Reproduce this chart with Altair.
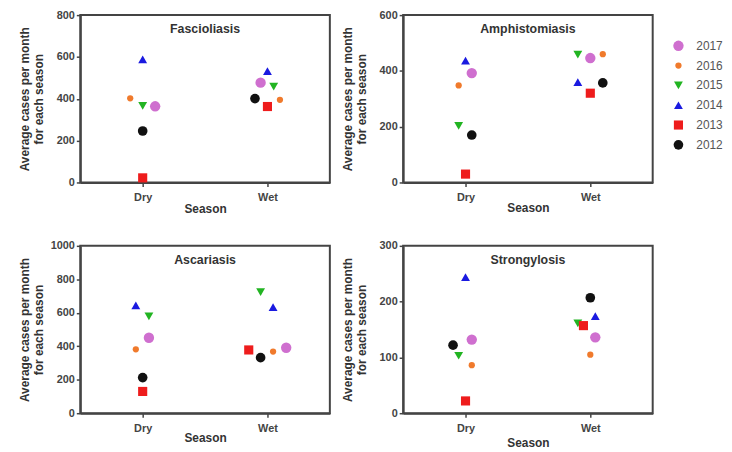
import json
import altair as alt
import pandas as pd

years = ["2017", "2016", "2015", "2014", "2013", "2012"]
seasons = ["Dry", "Wet"]
colors = ["#cf6fcf", "#f07a2c", "#22b422", "#1a1ae0", "#ee1c1c", "#111111"]
shapes = ["circle", "circle", "triangle-down", "triangle-up", "square", "circle"]
sizes = [110, 40, 80, 80, 85, 95]

y_title = ["Average cases per month", "for each season"]

# values per year (2017..2012)
fasc_dry = [364, 402, 366, 588, 22, 246]
fasc_wet = [477, 395, 458, 532, 363, 401]
fasc_dry_jit = [0.1, -0.1, 0, 0, 0, 0]
fasc_wet_jit = [-0.055, 0.1, 0.05, 0, 0, -0.1]

amph_dry = [392, 348, 203, 437, 30, 170]
amph_wet = [446, 460, 458, 360, 320, 357]
amph_dry_jit = [0.05, -0.055, -0.055, 0, 0, 0.05]
amph_wet_jit = [0, 0.1, -0.1, -0.1, 0, 0.1]

asca_dry = [451, 382, 579, 644, 130, 213]
asca_wet = [391, 368, 723, 634, 378, 332]
asca_dry_jit = [0.05, -0.055, 0.05, -0.055, 0, 0]
asca_wet_jit = [0.15, 0.045, -0.055, 0.045, -0.15, -0.055]

stro_dry = [132, 86, 103, 244, 22, 122]
stro_wet = [136, 105, 161, 174, 157, 207]
stro_dry_jit = [0.05, 0.05, -0.055, 0, 0, -0.1]
stro_wet_jit = [0.04, 0, -0.1, 0.04, -0.055, 0]

W, H = 252, 169
FONT = "Liberation Sans"


def panel(name, dry, wet, dry_j, wet_j, ymax, ystep, tpad, show_legend):
    df = pd.DataFrame({
        "year": years * 2,
        "season": [seasons[0]] * len(years) + [seasons[1]] * len(years),
        "value": dry + wet,
        "jitter": dry_j + wet_j,
    })
    legend = None
    if show_legend:
        legend = alt.Legend(title=None, orient="none", legendX=272, legendY=25,
                            labelFont=FONT, labelFontSize=12, labelColor="#555",
                            rowPadding=8, labelOffset=12, symbolStrokeWidth=0)
    pts = alt.Chart(df).transform_calculate(
        xpos=f"indexof({json.dumps(seasons)}, datum.season) + 0.5 + datum.jitter"
    ).mark_point(filled=True, opacity=1).encode(
        x=alt.X("xpos:Q", scale=alt.Scale(domain=[0, 2]),
                axis=alt.Axis(values=[0.5, 1.5], title="Season", titlePadding=tpad,
                              labelExpr=f"{json.dumps(seasons)}[floor(datum.value)]")),
        y=alt.Y("value:Q", scale=alt.Scale(domain=[0, ymax], nice=False),
                axis=alt.Axis(values=list(range(0, ymax + 1, ystep)), title=y_title, format="d")),
        color=alt.Color("year:N", scale=alt.Scale(domain=years, range=colors), legend=legend),
        shape=alt.Shape("year:N", scale=alt.Scale(domain=years, range=shapes), legend=legend),
        size=alt.Size("year:N", scale=alt.Scale(type="ordinal", domain=years, range=sizes), legend=legend),
    )
    ttl = alt.Chart(pd.DataFrame({"t": [name]})).mark_text(
        font=FONT, fontSize=12.5, fontWeight="bold", color="#333", baseline="middle"
    ).encode(text="t:N", x=alt.value(W / 2), y=alt.value(14))
    return alt.layer(pts, ttl).properties(width=W, height=H)


p1 = panel("Fascioliasis", fasc_dry, fasc_wet, fasc_dry_jit, fasc_wet_jit, 800, 200, 1, False)
p2 = panel("Amphistomiasis", amph_dry, amph_wet, amph_dry_jit, amph_wet_jit, 600, 200, 0, True)
p3 = panel("Ascariasis", asca_dry, asca_wet, asca_dry_jit, asca_wet_jit, 1000, 200, 0, False)
p4 = panel("Strongylosis", stro_dry, stro_wet, stro_dry_jit, stro_wet_jit, 300, 100, 5, False)

row1 = alt.hconcat(p1, p2, spacing=10).resolve_scale(color="independent", shape="independent", size="independent")
row2 = alt.hconcat(p3, p4, spacing=10).resolve_scale(color="independent", shape="independent", size="independent")

chart = alt.vconcat(row1, row2, spacing=24).resolve_scale(
    color="independent", shape="independent", size="independent"
).properties(
    padding={"left": 10, "top": -2, "right": 0, "bottom": 0},
    background="white",
).configure_view(
    stroke="#444", strokeWidth=2
).configure_axis(
    grid=False, domainColor="#444", domainWidth=2, tickColor="#444", tickWidth=1.5, tickSize=4,
    labelFont=FONT, labelFontSize=11, labelFontWeight="bold", labelColor="#444", labelPadding=2,
    titleFont=FONT, titleFontSize=12, titleFontWeight="bold", titleColor="#333", titleLineHeight=14,
).configure_axisY(
    minExtent=30, maxExtent=30, titlePadding=5
).configure_axisX(
    labelPadding=5
)

chart.save("out.html", embed_options={"renderer": "svg", "actions": False})
